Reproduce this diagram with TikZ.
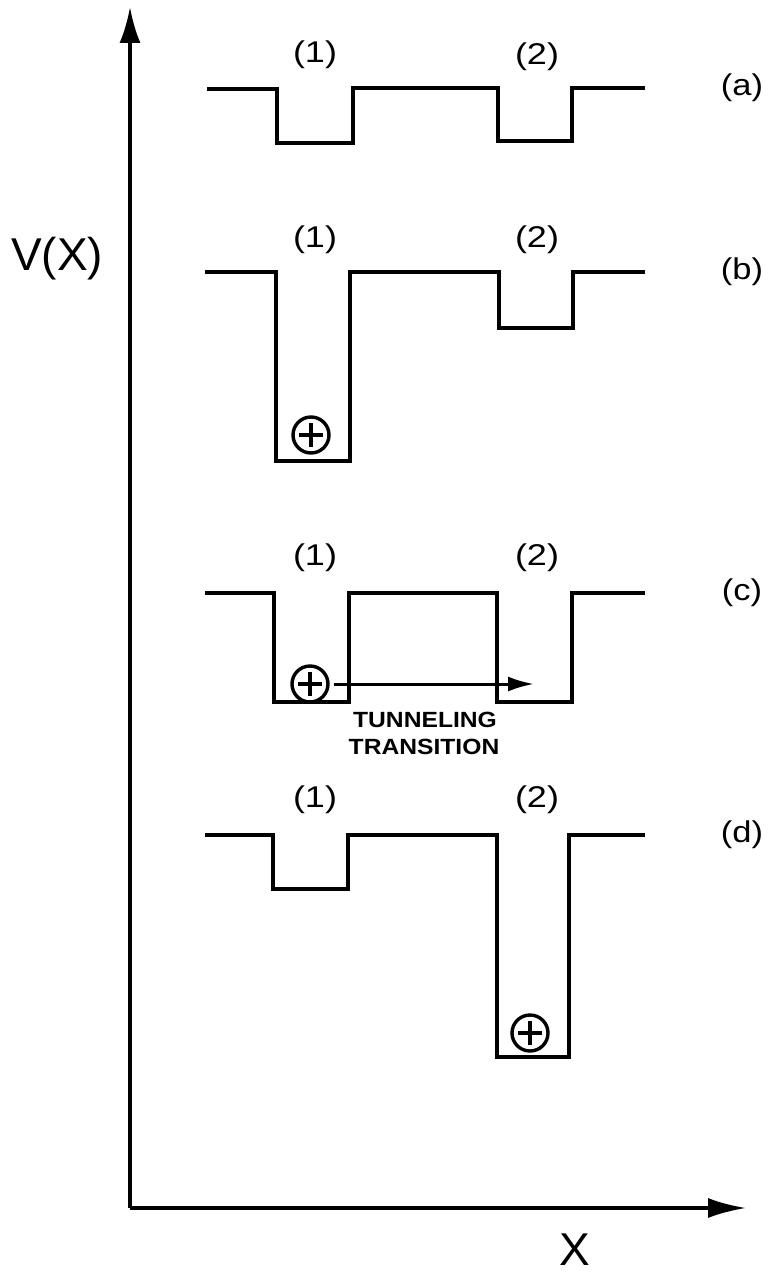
\documentclass[tikz,border=0pt]{standalone}
\usepackage{fontspec}
\setmainfont{Liberation Sans}
\usetikzlibrary{arrows.meta}
\begin{document}
\begin{tikzpicture}[x=1pt,y=-1pt,
  well/.style={line width=4pt,line join=miter},
  axis/.style={line width=3.4pt},
  lbl/.style={font=\fontsize{30}{32}\selectfont,inner sep=0pt,xscale=1.2},
  caseLbl/.style={font=\fontsize{30}{32}\selectfont,inner sep=0pt,xscale=1.15},
  big/.style={font=\fontsize{46}{50}\selectfont,inner sep=0pt},
  charge/.style={circle,draw,line width=3.4pt,minimum size=36pt,inner sep=0pt},
  plusbar/.style={line width=3.2pt},
  tiny/.style={font=\fontsize{22}{26}\selectfont\bfseries,inner sep=0pt,xscale=1.12}]
\useasboundingbox (0,0) rectangle (768,1273);
% axes
\coordinate (O) at (130,1208);
\coordinate (Ytop) at (130,7);
\coordinate (Xend) at (746,1208);
\draw[axis,-{Latex[length=36pt,width=21pt]}] (O) -- (Ytop);
\draw[axis,-{Latex[length=38pt,width=20pt]}] (O) -- (Xend);
\node[big] (vx) at (57,259) {V(X)};
\node[big] (xl) at (575,1250) {X};
% row a
\draw[well] (207,89) -- (277,89) -- (277,143) -- (353,143) -- (353,88) -- (498,88) -- (498,141) -- (572,141) -- (572,88) -- (645,88);
\node[lbl] (a1) at (315,55) {(1)};
\node[lbl] (a2) at (537,57) {(2)};
\node[caseLbl] (ca) at (742,88) {(a)};
% row b
\draw[well] (205,272) -- (276,272) -- (276,461) -- (350,461) -- (350,272) -- (499,272) -- (499,328) -- (573,328) -- (573,272) -- (645,272);
\node[lbl] (b1) at (315,240) {(1)};
\node[lbl] (b2) at (537,240) {(2)};
\node[caseLbl] (cb) at (742,272) {(b)};
\node[charge] (pb) at (311,435) {};
\draw[plusbar] ([xshift=-12pt]pb.center) -- ([xshift=12pt]pb.center) ([yshift=-12pt]pb.center) -- ([yshift=12pt]pb.center);
% row c
\draw[well] (205,593) -- (274,593) -- (274,702) -- (349,702) -- (349,593) -- (497,593) -- (497,702) -- (572,702) -- (572,593) -- (645,593);
\node[lbl] (c1) at (315,558) {(1)};
\node[lbl] (c2) at (537,558) {(2)};
\node[caseLbl] (cc) at (742,593) {(c)};
\node[charge] (pc) at (310,684) {};
\draw[plusbar] ([xshift=-12pt]pc.center) -- ([xshift=12pt]pc.center) ([yshift=-12pt]pc.center) -- ([yshift=12pt]pc.center);
\coordinate (tend) at (534,684);
\draw[line width=3pt,-{Latex[length=26pt,width=15pt]}] ([xshift=4pt]pc.east) -- (tend);
\node[tiny] (t1) at (425,720) {TUNNELING};
\node[tiny] (t2) at (424,747) {TRANSITION};
% row d
\draw[well] (205,835) -- (273,835) -- (273,889) -- (348,889) -- (348,835) -- (497,835) -- (497,1057) -- (569,1057) -- (569,835) -- (645,835);
\node[lbl] (d1) at (315,800) {(1)};
\node[lbl] (d2) at (537,800) {(2)};
\node[caseLbl] (cd) at (742,835) {(d)};
\node[charge] (pd) at (530,1033) {};
\draw[plusbar] ([xshift=-12pt]pd.center) -- ([xshift=12pt]pd.center) ([yshift=-12pt]pd.center) -- ([yshift=12pt]pd.center);
\end{tikzpicture}
\end{document}
